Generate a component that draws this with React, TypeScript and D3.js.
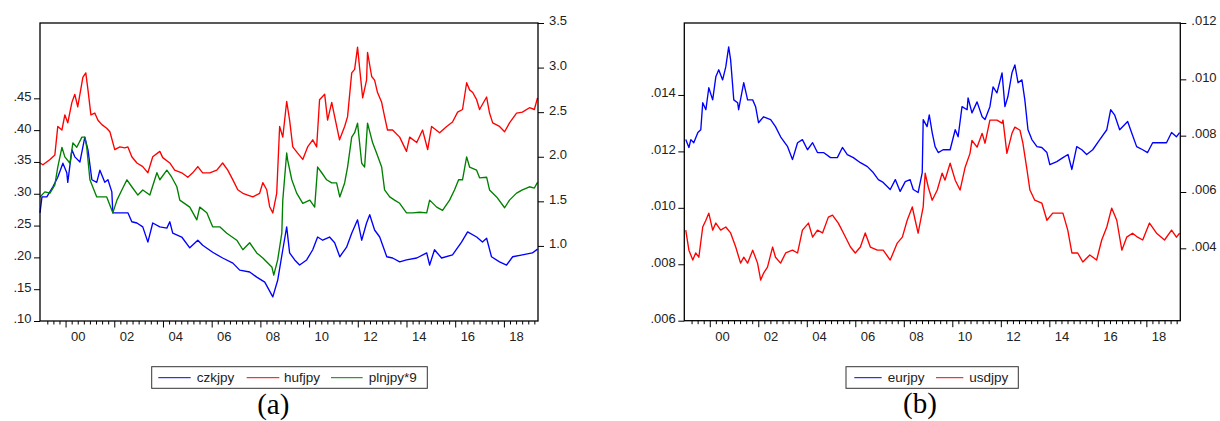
import React, { useEffect, useRef } from "react";
import * as d3 from "d3";

// panel (a): [year, value]
const czkjpy: [number, number][] = [
  [1998.95, 0.270], [1999.03, 0.295], [1999.23, 0.295], [1999.48, 0.311], [1999.68, 0.326], [1999.89, 0.348],
  [2000.05, 0.333], [2000.09, 0.318], [2000.26, 0.369], [2000.38, 0.358], [2000.59, 0.350], [2000.79, 0.389],
  [2000.92, 0.369], [2001.08, 0.322], [2001.28, 0.318], [2001.41, 0.337], [2001.61, 0.318], [2001.74, 0.322],
  [2001.90, 0.303], [2001.94, 0.270], [2002.23, 0.270], [2002.56, 0.270], [2002.72, 0.256], [2002.93, 0.254],
  [2003.17, 0.248], [2003.38, 0.224], [2003.58, 0.254], [2003.87, 0.248], [2004.16, 0.246], [2004.28, 0.256],
  [2004.40, 0.238], [2004.77, 0.232], [2005.10, 0.215], [2005.43, 0.227], [2005.63, 0.219], [2006.04, 0.208],
  [2006.45, 0.199], [2006.87, 0.191], [2007.15, 0.180], [2007.56, 0.177], [2007.85, 0.169], [2008.18, 0.161],
  [2008.51, 0.138], [2008.71, 0.164], [2008.92, 0.212], [2009.08, 0.248], [2009.20, 0.207], [2009.41, 0.196],
  [2009.61, 0.188], [2009.90, 0.196], [2010.15, 0.212], [2010.35, 0.232], [2010.56, 0.227], [2010.84, 0.232],
  [2011.05, 0.223], [2011.26, 0.201], [2011.54, 0.216], [2011.75, 0.238], [2011.99, 0.259], [2012.16, 0.227],
  [2012.36, 0.254], [2012.49, 0.267], [2012.69, 0.243], [2012.90, 0.232], [2013.19, 0.201], [2013.43, 0.199],
  [2013.72, 0.193], [2014.00, 0.196], [2014.42, 0.199], [2014.83, 0.207], [2014.95, 0.188], [2015.15, 0.212],
  [2015.44, 0.199], [2015.89, 0.204], [2016.26, 0.224], [2016.51, 0.240], [2016.88, 0.232], [2017.12, 0.224],
  [2017.29, 0.230], [2017.49, 0.201], [2017.82, 0.193], [2018.11, 0.188], [2018.36, 0.201], [2018.76, 0.204],
  [2019.17, 0.207], [2019.38, 0.213],
];

const hufjpy: [number, number][] = [
  [1998.95, 1.93], [1999.07, 1.91], [1999.36, 1.97], [1999.56, 2.02], [1999.68, 2.34], [1999.85, 2.30],
  [1999.97, 2.47], [2000.09, 2.38], [2000.26, 2.61], [2000.38, 2.70], [2000.50, 2.56], [2000.71, 2.89],
  [2000.83, 2.94], [2000.92, 2.75], [2001.04, 2.47], [2001.20, 2.49], [2001.33, 2.41], [2001.49, 2.36],
  [2001.69, 2.32], [2001.82, 2.28], [2002.02, 2.08], [2002.23, 2.11], [2002.43, 2.10], [2002.56, 2.11],
  [2002.72, 2.00], [2002.93, 1.93], [2003.17, 1.89], [2003.38, 1.82], [2003.58, 2.00], [2003.87, 2.06],
  [2003.99, 1.99], [2004.28, 1.93], [2004.48, 1.85], [2004.77, 1.82], [2005.02, 1.77], [2005.22, 1.82],
  [2005.43, 1.89], [2005.63, 1.82], [2005.92, 1.82], [2006.21, 1.85], [2006.45, 1.93], [2006.66, 1.85],
  [2006.87, 1.74], [2007.07, 1.63], [2007.28, 1.59], [2007.48, 1.57], [2007.69, 1.55], [2007.97, 1.59],
  [2008.10, 1.71], [2008.26, 1.63], [2008.38, 1.44], [2008.51, 1.37], [2008.67, 1.59], [2008.79, 2.34],
  [2008.92, 2.22], [2009.08, 2.62], [2009.20, 2.41], [2009.33, 2.11], [2009.53, 2.04], [2009.74, 1.97],
  [2009.94, 2.11], [2010.15, 2.19], [2010.31, 2.11], [2010.43, 2.64], [2010.64, 2.70], [2010.76, 2.41],
  [2010.93, 2.61], [2011.05, 2.45], [2011.25, 2.19], [2011.46, 2.34], [2011.58, 2.45], [2011.75, 2.94],
  [2011.87, 2.98], [2011.99, 3.23], [2012.08, 2.98], [2012.20, 2.66], [2012.36, 2.86], [2012.40, 3.17],
  [2012.57, 2.90], [2012.69, 2.86], [2012.81, 2.72], [2012.98, 2.61], [2013.10, 2.45], [2013.22, 2.30],
  [2013.43, 2.30], [2013.72, 2.22], [2014.00, 2.06], [2014.13, 2.22], [2014.42, 2.16], [2014.66, 2.30],
  [2014.87, 2.08], [2015.03, 2.34], [2015.36, 2.27], [2015.65, 2.34], [2015.89, 2.39], [2016.10, 2.50],
  [2016.30, 2.53], [2016.47, 2.83], [2016.59, 2.75], [2016.72, 2.72], [2016.88, 2.64], [2017.00, 2.53],
  [2017.29, 2.67], [2017.41, 2.49], [2017.54, 2.38], [2017.82, 2.34], [2018.03, 2.28], [2018.23, 2.38],
  [2018.52, 2.49], [2018.76, 2.50], [2019.05, 2.55], [2019.25, 2.53], [2019.38, 2.66],
];

const plnjpy9: [number, number][] = [
  [1998.95, 0.295], [1999.15, 0.303], [1999.36, 0.301], [1999.56, 0.314], [1999.68, 0.342], [1999.85, 0.373],
  [1999.97, 0.358], [2000.18, 0.348], [2000.30, 0.380], [2000.46, 0.373], [2000.67, 0.389], [2000.79, 0.389],
  [2000.87, 0.373], [2001.00, 0.322], [2001.28, 0.295], [2001.69, 0.295], [2001.94, 0.270], [2002.11, 0.290],
  [2002.31, 0.306], [2002.52, 0.322], [2002.72, 0.311], [2002.97, 0.298], [2003.17, 0.306], [2003.46, 0.298],
  [2003.75, 0.333], [2003.87, 0.322], [2004.16, 0.337], [2004.36, 0.326], [2004.57, 0.311], [2004.69, 0.290],
  [2005.10, 0.279], [2005.39, 0.259], [2005.51, 0.279], [2005.80, 0.270], [2006.04, 0.248], [2006.33, 0.248],
  [2006.62, 0.238], [2007.03, 0.227], [2007.28, 0.212], [2007.56, 0.223], [2007.85, 0.207], [2008.10, 0.199],
  [2008.47, 0.185], [2008.55, 0.172], [2008.71, 0.196], [2008.88, 0.238], [2008.92, 0.290], [2009.08, 0.364],
  [2009.12, 0.353], [2009.29, 0.322], [2009.49, 0.301], [2009.74, 0.285], [2010.03, 0.290], [2010.23, 0.279],
  [2010.35, 0.342], [2010.52, 0.333], [2010.72, 0.322], [2010.93, 0.317], [2011.13, 0.317], [2011.26, 0.295],
  [2011.46, 0.317], [2011.58, 0.342], [2011.75, 0.389], [2011.87, 0.396], [2011.99, 0.411], [2012.16, 0.348],
  [2012.28, 0.342], [2012.40, 0.411], [2012.61, 0.380], [2012.77, 0.364], [2012.98, 0.342], [2013.10, 0.306],
  [2013.31, 0.295], [2013.51, 0.290], [2013.72, 0.285], [2014.00, 0.270], [2014.25, 0.270], [2014.54, 0.271],
  [2014.83, 0.270], [2014.95, 0.290], [2015.24, 0.279], [2015.48, 0.274], [2015.77, 0.290], [2015.97, 0.306],
  [2016.14, 0.322], [2016.30, 0.322], [2016.47, 0.358], [2016.59, 0.342], [2016.88, 0.337], [2017.00, 0.325],
  [2017.29, 0.326], [2017.41, 0.306], [2017.70, 0.295], [2018.03, 0.278], [2018.23, 0.290], [2018.52, 0.301],
  [2018.76, 0.306], [2019.05, 0.311], [2019.25, 0.309], [2019.38, 0.318],
];

// panel (b)
const eurjpy: [number, number][] = [
  [1999.01, 0.00786], [1999.14, 0.00758], [1999.22, 0.00786], [1999.34, 0.00775], [1999.51, 0.00811],
  [1999.63, 0.00821], [1999.71, 0.00917], [1999.84, 0.00892], [1999.96, 0.00970], [2000.12, 0.00927],
  [2000.25, 0.01009], [2000.37, 0.01034], [2000.53, 0.00998], [2000.66, 0.01044], [2000.78, 0.01115],
  [2000.86, 0.01069], [2000.99, 0.00927], [2001.15, 0.00917], [2001.19, 0.00892], [2001.40, 0.00988],
  [2001.56, 0.00927], [2001.77, 0.00927], [2001.89, 0.00903], [2002.01, 0.00846], [2002.22, 0.00867],
  [2002.51, 0.00857], [2002.71, 0.00832], [2002.92, 0.00796], [2003.21, 0.00761], [2003.41, 0.00715],
  [2003.62, 0.00775], [2003.82, 0.00786], [2004.03, 0.00750], [2004.24, 0.00775], [2004.44, 0.00740],
  [2004.69, 0.00740], [2004.98, 0.00722], [2005.26, 0.00722], [2005.47, 0.00758], [2005.67, 0.00733],
  [2005.92, 0.00722], [2006.21, 0.00704], [2006.50, 0.00690], [2006.74, 0.00669], [2006.95, 0.00644],
  [2007.15, 0.00634], [2007.44, 0.00609], [2007.65, 0.00644], [2007.85, 0.00602], [2008.06, 0.00637],
  [2008.26, 0.00644], [2008.39, 0.00609], [2008.59, 0.00598], [2008.76, 0.00669], [2008.80, 0.00857],
  [2008.96, 0.00832], [2009.05, 0.00874], [2009.17, 0.00811], [2009.29, 0.00761], [2009.42, 0.00740],
  [2009.62, 0.00750], [2009.91, 0.00750], [2010.12, 0.00821], [2010.24, 0.00796], [2010.40, 0.00903],
  [2010.61, 0.00892], [2010.65, 0.00934], [2010.81, 0.00881], [2011.02, 0.00920], [2011.23, 0.00867],
  [2011.35, 0.00857], [2011.55, 0.00903], [2011.68, 0.00973], [2011.84, 0.00952], [2012.05, 0.01023],
  [2012.17, 0.00903], [2012.29, 0.00938], [2012.46, 0.01023], [2012.58, 0.01051], [2012.71, 0.00988],
  [2012.87, 0.00998], [2012.99, 0.00927], [2013.12, 0.00821], [2013.28, 0.00786], [2013.49, 0.00761],
  [2013.69, 0.00758], [2013.90, 0.00740], [2014.02, 0.00697], [2014.31, 0.00708], [2014.56, 0.00722],
  [2014.77, 0.00733], [2014.93, 0.00680], [2015.13, 0.00761], [2015.34, 0.00750], [2015.54, 0.00733],
  [2015.79, 0.00750], [2016.08, 0.00786], [2016.37, 0.00821], [2016.53, 0.00892], [2016.69, 0.00874],
  [2016.90, 0.00821], [2017.23, 0.00850], [2017.39, 0.00811], [2017.60, 0.00761], [2017.85, 0.00750],
  [2018.05, 0.00740], [2018.26, 0.00775], [2018.54, 0.00775], [2018.83, 0.00775], [2019.04, 0.00811],
  [2019.24, 0.00796], [2019.37, 0.00811],
];

const usdjpy: [number, number][] = [
  [1999.01, 0.00921], [1999.14, 0.00850], [1999.30, 0.00815], [1999.42, 0.00840], [1999.55, 0.00825],
  [1999.71, 0.00932], [1999.84, 0.00956], [1999.96, 0.00981], [2000.12, 0.00921], [2000.25, 0.00946],
  [2000.45, 0.00921], [2000.66, 0.00932], [2000.86, 0.00911], [2001.07, 0.00861], [2001.27, 0.00804],
  [2001.40, 0.00825], [2001.56, 0.00804], [2001.77, 0.00850], [2001.97, 0.00804], [2002.10, 0.00744],
  [2002.22, 0.00769], [2002.38, 0.00790], [2002.59, 0.00861], [2002.71, 0.00825], [2002.92, 0.00804],
  [2003.13, 0.00840], [2003.41, 0.00850], [2003.62, 0.00840], [2003.82, 0.00921], [2004.07, 0.00946],
  [2004.24, 0.00896], [2004.44, 0.00921], [2004.65, 0.00911], [2004.89, 0.00967], [2005.06, 0.00974],
  [2005.30, 0.00946], [2005.51, 0.00911], [2005.80, 0.00861], [2006.00, 0.00840], [2006.21, 0.00861],
  [2006.41, 0.00911], [2006.62, 0.00861], [2006.91, 0.00850], [2007.15, 0.00850], [2007.44, 0.00815],
  [2007.73, 0.00875], [2007.94, 0.00896], [2008.14, 0.00956], [2008.35, 0.01003], [2008.47, 0.00956],
  [2008.59, 0.00910], [2008.80, 0.01003], [2008.88, 0.01123], [2009.01, 0.01073], [2009.17, 0.01027],
  [2009.38, 0.01063], [2009.58, 0.01123], [2009.70, 0.01098], [2009.91, 0.01158], [2010.12, 0.01098],
  [2010.32, 0.01063], [2010.53, 0.01144], [2010.73, 0.01193], [2010.81, 0.01239], [2011.02, 0.01215],
  [2011.23, 0.01264], [2011.35, 0.01229], [2011.55, 0.01311], [2011.84, 0.01311], [2012.05, 0.01300],
  [2012.09, 0.01311], [2012.25, 0.01193], [2012.46, 0.01264], [2012.58, 0.01286], [2012.79, 0.01275],
  [2012.91, 0.01229], [2013.08, 0.01134], [2013.20, 0.01063], [2013.40, 0.01027], [2013.69, 0.01017],
  [2013.90, 0.00956], [2014.14, 0.00981], [2014.56, 0.00981], [2014.76, 0.00921], [2014.93, 0.00840],
  [2015.17, 0.00840], [2015.38, 0.00808], [2015.67, 0.00833], [2015.95, 0.00815], [2016.16, 0.00886],
  [2016.37, 0.00932], [2016.57, 0.00999], [2016.78, 0.00956], [2016.99, 0.00850], [2017.19, 0.00896],
  [2017.43, 0.00910], [2017.64, 0.00896], [2017.85, 0.00886], [2018.13, 0.00946], [2018.42, 0.00910],
  [2018.75, 0.00886], [2019.04, 0.00921], [2019.24, 0.00896], [2019.37, 0.00910],
];

const yearTicks = [2000, 2002, 2004, 2006, 2008, 2010, 2012, 2014, 2016, 2018];
const leftTicksA = [0.10, 0.15, 0.20, 0.25, 0.30, 0.35, 0.40, 0.45];
const rightTicksA = [1.0, 1.5, 2.0, 2.5, 3.0, 3.5];
const leftTicksB = [0.006, 0.008, 0.010, 0.012, 0.014];
const rightTicksB = [0.004, 0.006, 0.008, 0.010, 0.012];

const X_DOMAIN: [number, number] = [1998.95, 2019.4];
const SANS = "'Liberation Sans', Arial, sans-serif";

const noLead = (f: string) => (d: any) => d3.format(f)(d).replace(/^0\./, ".");

const Panel = ({ box, leftDomain, rightDomain, leftTicks, rightTicks, leftFmt, rightFmt, series, legend, caption, clipRight }: any) => {
  const ref = useRef<SVGGElement>(null);

  useEffect(() => {
    const g = d3.select(ref.current);
    g.selectAll("*").remove();

    const x = d3.scaleLinear().domain(X_DOMAIN).range([box.x0, box.x1]);
    const yl = d3.scaleLinear().domain(leftDomain).range([box.y1, box.y0]);
    const yr = d3.scaleLinear().domain(rightDomain).range([box.y1, box.y0]);

    // lines
    series.forEach((s: any) => {
      const y = s.axis === "left" ? yl : yr;
      g.append("path")
        .datum(s.data)
        .attr("fill", "none")
        .attr("stroke", s.color)
        .attr("stroke-width", 1.35)
        .attr("stroke-linejoin", "round")
        .attr("d", d3.line<[number, number]>().x((d) => x(d[0])).y((d) => y(d[1])));
    });

    // frame
    g.append("rect")
      .attr("x", box.x0).attr("y", box.y0)
      .attr("width", box.x1 - box.x0).attr("height", box.y1 - box.y0)
      .attr("fill", "none").attr("stroke", "#000").attr("stroke-width", 1.3);

    const styleAxis = (a: any) => {
      a.attr("font-family", SANS).attr("font-size", 13).attr("color", "#000");
      a.select(".domain").remove();
      a.selectAll("text").attr("fill", "#222");
    };

    const la = g.append("g").attr("transform", `translate(${box.x0},0)`)
      .call(d3.axisLeft(yl).tickValues(leftTicks).tickSize(6).tickPadding(2.5).tickFormat(leftFmt));
    styleAxis(la);
    la.selectAll("text").attr("dy", "0.15em");

    const ra = g.append("g").attr("transform", `translate(${box.x1},0)`)
      .attr("clip-path", clipRight ? `url(#${clipRight})` : null)
      .call(d3.axisRight(yr).tickValues(rightTicks).tickSize(6).tickPadding(5).tickFormat(rightFmt));
    styleAxis(ra);
    ra.selectAll("text").attr("dy", "0.15em");

    // quarterly minor ticks
    const minor = d3.range(1999.25, 2019.4, 0.25).filter((v) => !yearTicks.includes(v));
    const mi = g.append("g").attr("transform", `translate(0,${box.y1})`)
      .call(d3.axisBottom(x).tickValues(minor).tickSize(3.5).tickFormat(() => ""));
    styleAxis(mi);

    const half = x(2000.5) - x(2000);
    const ma = g.append("g").attr("transform", `translate(0,${box.y1})`)
      .call(d3.axisBottom(x).tickValues(yearTicks).tickSize(6.5).tickFormat((d: any) => String(d % 100).padStart(2, "0")));
    styleAxis(ma);
    ma.selectAll("text").attr("x", half).attr("y", 11.2);

    // legend
    const lg = g.append("g");
    lg.append("rect")
      .attr("x", legend.x0).attr("y", 366.7)
      .attr("width", legend.x1 - legend.x0).attr("height", 21.6)
      .attr("fill", "#fff").attr("stroke", "#333").attr("stroke-width", 1);
    legend.items.forEach((it: any) => {
      lg.append("line")
        .attr("x1", it.lx0).attr("x2", it.lx1).attr("y1", 377.7).attr("y2", 377.7)
        .attr("stroke", it.color).attr("stroke-width", 1);
      lg.append("text")
        .attr("x", it.tx).attr("y", 382)
        .attr("font-family", SANS).attr("font-size", 13.5).attr("fill", "#222")
        .text(it.label);
    });

    g.append("text")
      .attr("x", caption.x).attr("y", caption.y)
      .attr("text-anchor", "middle")
      .attr("font-family", "'Liberation Serif', 'Times New Roman', serif")
      .attr("font-size", 29).attr("fill", "#000")
      .text(caption.text);
  }, []);

  return <g ref={ref} />;
};

export default function App() {
  return (
    <svg width={1220} height={421} style={{ position: "absolute", left: 0, top: 0, background: "#fff" }}>
      <defs>
        <clipPath id="clipA">
          <rect x={0} y={0} width={567} height={421} />
        </clipPath>
      </defs>
      <Panel
        box={{ x0: 40, x1: 538, y0: 23, y1: 321 }}
        leftDomain={[0.10, 0.5684]}
        rightDomain={[0.158, 3.5]}
        leftTicks={leftTicksA}
        rightTicks={rightTicksA}
        leftFmt={noLead(".2f")}
        rightFmt={d3.format(".1f")}
        clipRight="clipA"
        series={[
          { data: czkjpy, color: "#0000ff", axis: "left" },
          { data: hufjpy, color: "#ff0000", axis: "right" },
          { data: plnjpy9, color: "#008000", axis: "left" },
        ]}
        legend={{
          x0: 151.7, x1: 427.3,
          items: [
            { label: "czkjpy", color: "#0000ff", lx0: 158.3, lx1: 190.7, tx: 196.7 },
            { label: "hufjpy", color: "#ff0000", lx0: 246.7, lx1: 279.3, tx: 284 },
            { label: "plnjpy*9", color: "#008000", lx0: 331, lx1: 362.7, tx: 368.7 },
          ],
        }}
        caption={{ text: "(a)", x: 273.3, y: 414 }}
      />
      <Panel
        box={{ x0: 684.3, x1: 1180.3, y0: 23, y1: 320.7 }}
        leftDomain={[0.006, 0.01655]}
        rightDomain={[0.00143, 0.012]}
        leftTicks={leftTicksB}
        rightTicks={rightTicksB}
        leftFmt={noLead(".3f")}
        rightFmt={noLead(".3f")}
        series={[
          { data: usdjpy, color: "#ff0000", axis: "left" },
          { data: eurjpy, color: "#0000ff", axis: "right" },
        ]}
        legend={{
          x0: 846, x1: 1018.3,
          items: [
            { label: "eurjpy", color: "#0000ff", lx0: 854.3, lx1: 881.7, tx: 887.7 },
            { label: "usdjpy", color: "#ff0000", lx0: 936, lx1: 963.3, tx: 969.3 },
          ],
        }}
        caption={{ text: "(b)", x: 920, y: 413 }}
      />
    </svg>
  );
}
